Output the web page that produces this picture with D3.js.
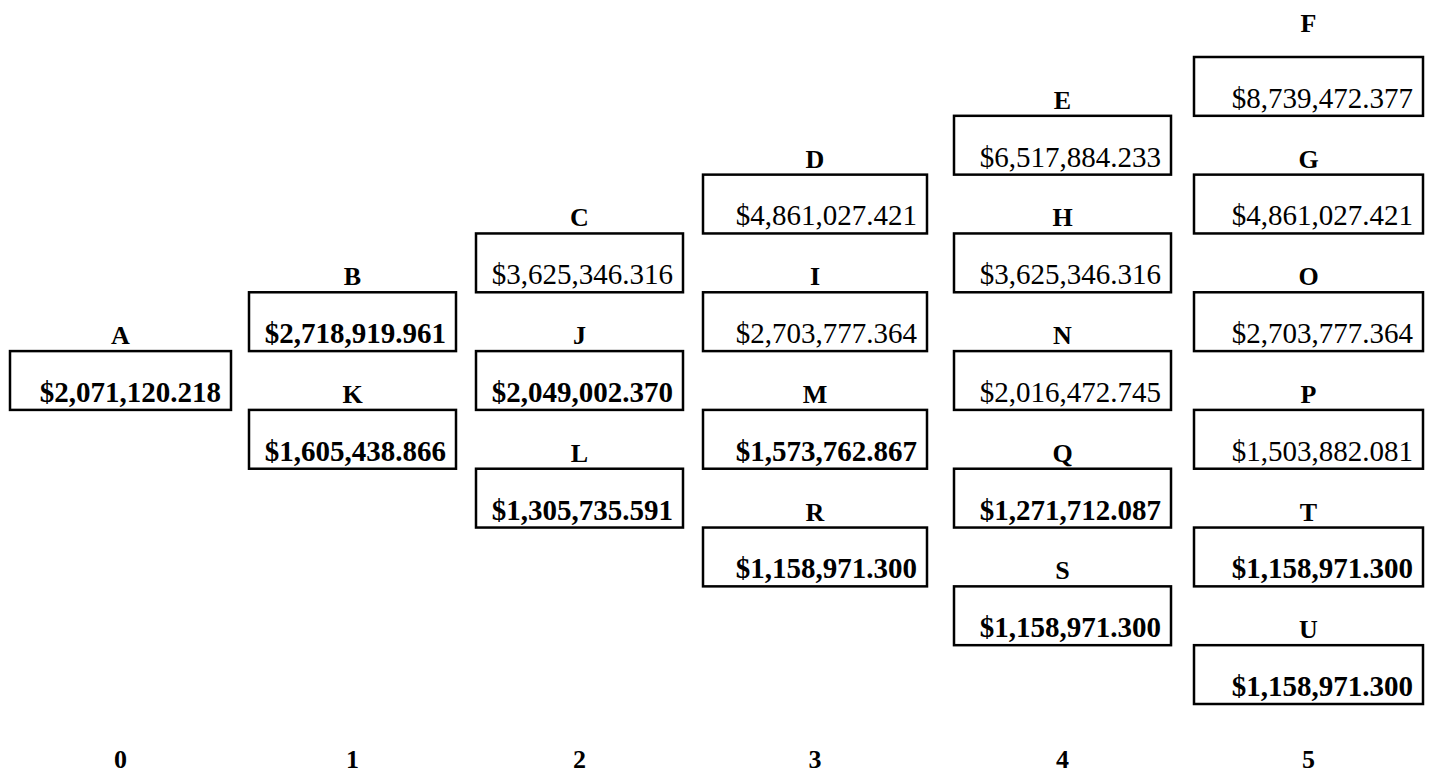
<!DOCTYPE html>
<html lang="en">
<head>
  <meta charset="UTF-8">
  <title>Binomial Tree</title>
  <script src="https://d3js.org/d3.v7.min.js"></script>
  <style>
    body {
      margin: 0;
      background: #fff;
    }
    svg text {
      font-family: "Liberation Serif", "Times New Roman", serif;
      fill: #000;
    }
    .node-box {
      fill: none;
      stroke: #000;
      stroke-width: 2.5px;
    }
    .node-label, .period-label {
      font-weight: bold;
      font-size: 26px;
    }
    .node-value {
      font-size: 29px;
    }
  </style>
</head>
<body>
  <div id="chart"></div>

  <script>
    // tree data, one array per period (top node first)
    const periods = [0, 1, 2, 3, 4, 5];
    const nodeLabels = [
      ["A"],
      ["B", "K"],
      ["C", "J", "L"],
      ["D", "I", "M", "R"],
      ["E", "H", "N", "Q", "S"],
      ["F", "G", "O", "P", "T", "U"]
    ];
    const nodeValues = [
      [2071120.218],
      [2718919.961, 1605438.866],
      [3625346.316, 2049002.370, 1305735.591],
      [4861027.421, 2703777.364, 1573762.867, 1158971.300],
      [6517884.233, 3625346.316, 2016472.745, 1271712.087, 1158971.300],
      [8739472.377, 4861027.421, 2703777.364, 1503882.081, 1158971.300, 1158971.300]
    ];
    const nodeBold = [
      [true],
      [true, true],
      [false, true, true],
      [false, false, true, true],
      [false, false, false, true, true],
      [false, false, false, false, true, true]
    ];

    const width = 1432, height = 782;
    const svg = d3.select("#chart")
      .append("svg")
      .attr("width", width)
      .attr("height", height);

    // column edges of the spreadsheet-like layout
    const colX0 = d3.scaleOrdinal().domain(periods).range([10, 249, 476, 703, 954, 1194]);
    const colX1 = d3.scaleOrdinal().domain(periods).range([231, 456, 683, 927, 1171, 1423]);
    const colMid = p => (colX0(p) + colX1(p)) / 2;

    // grid rows: a box occupies one row, its label sits in the row above
    const nRows = 11;
    const y = d3.scaleLinear().domain([0, nRows]).range([57, 704]);

    const fmt = d3.format("$,.3f");

    const nodes = [];
    periods.forEach((p, i) => {
      nodeLabels[i].forEach((lab, j) => {
        nodes.push({
          period: p,
          row: (periods.length - 1 - p) + 2 * j,
          label: lab,
          value: nodeValues[i][j],
          bold: nodeBold[i][j]
        });
      });
    });

    const g = svg.selectAll(".node")
      .data(nodes)
      .enter().append("g")
      .attr("class", "node");

    g.append("rect")
      .attr("class", "node-box")
      .attr("x", d => colX0(d.period))
      .attr("y", d => y(d.row))
      .attr("width", d => colX1(d.period) - colX0(d.period))
      .attr("height", d => y(d.row + 1) - y(d.row));

    g.append("text")
      .attr("class", "node-value")
      .attr("x", d => colX1(d.period) - 10)
      .attr("y", d => y(d.row + 1) - 8)
      .attr("text-anchor", "end")
      .style("font-weight", d => d.bold ? "bold" : "normal")
      .text(d => fmt(d.value));

    // top row is cut off, so its label sits higher than the rest
    g.append("text")
      .attr("class", "node-label")
      .attr("x", d => colMid(d.period))
      .attr("y", d => d.row === 0 ? 32 : y(d.row) - 7)
      .attr("text-anchor", "middle")
      .text(d => d.label);

    // period numbers along the bottom
    svg.selectAll(".period-label")
      .data(periods)
      .enter().append("text")
      .attr("class", "period-label")
      .attr("x", d => colMid(d))
      .attr("y", 768)
      .attr("text-anchor", "middle")
      .text(d => d);
  </script>
</body>
</html>
